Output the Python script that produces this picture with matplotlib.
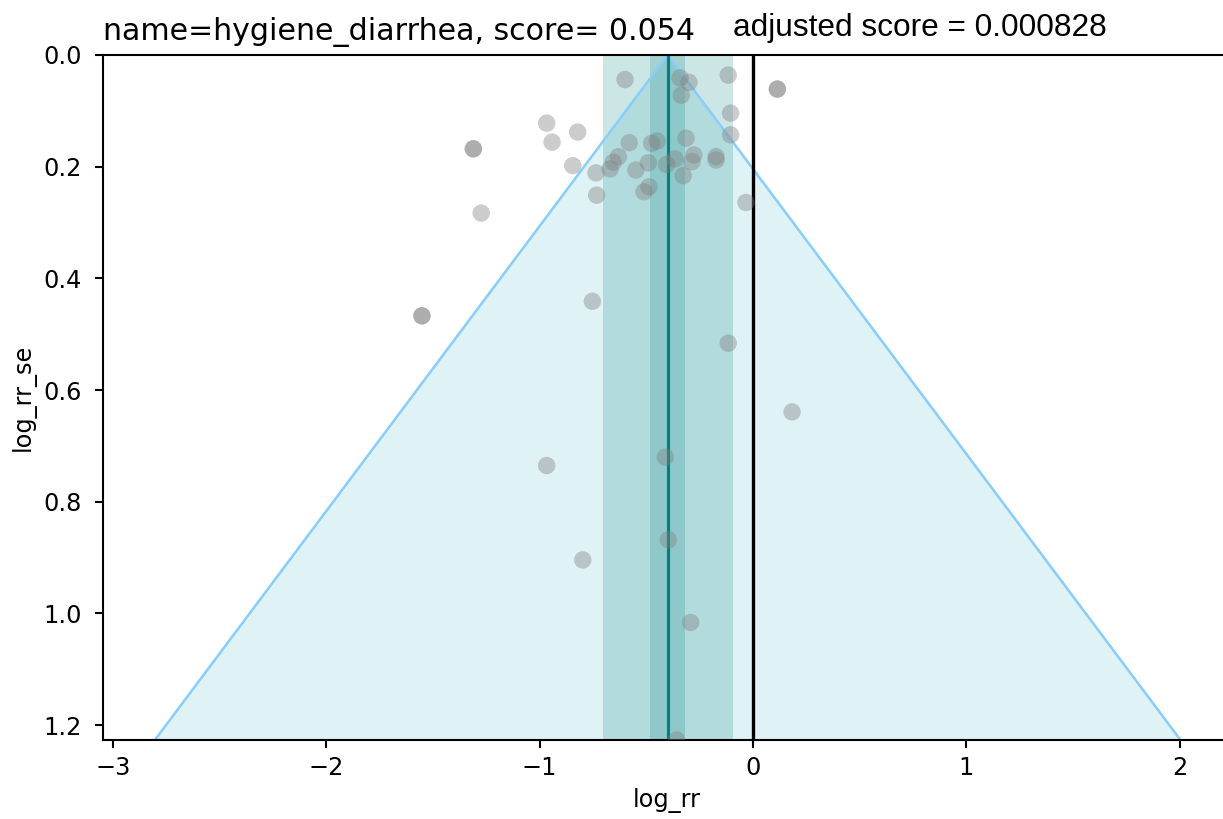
import matplotlib
matplotlib.use("Agg")
import matplotlib.pyplot as plt
import numpy as np

# Data
log_rr = [-0.600, -0.342, -0.300, -0.116, 0.114, 0.114, -0.336, -0.105, -0.105,
          -0.967, -0.822, -0.942, -0.845, -0.736, -0.733,
          -0.580, -0.475, -0.449, -0.314, -0.631, -0.655, -0.670, -0.549,
          -0.491, -0.405, -0.366, -0.277, -0.286, -0.173, -0.173, -0.327,
          -0.488, -0.511, -0.033,
          -1.311, -1.311, -1.274, -1.552, -1.552, -0.753,
          -0.116, 0.183, -0.967, -0.411, -0.397, -0.798, -0.292, -0.358]
log_rr_se = [0.044, 0.041, 0.049, 0.036, 0.061, 0.061, 0.072, 0.104, 0.143,
             0.122, 0.138, 0.156, 0.198, 0.211, 0.251,
             0.157, 0.158, 0.154, 0.149, 0.182, 0.192, 0.204, 0.206,
             0.193, 0.196, 0.186, 0.179, 0.191, 0.182, 0.188, 0.216,
             0.236, 0.245, 0.264,
             0.168, 0.168, 0.283, 0.467, 0.467, 0.441,
             0.516, 0.639, 0.735, 0.720, 0.868, 0.904, 1.016, 1.2265]

beta = -0.40
beta_inner = (-0.483, -0.319)
beta_outer = (-0.703, -0.094)
title_name = "hygiene_diarrhea"
score = 0.054
adjusted_score = 0.000828

W, H, DPI = 1223, 819, 150
fig = plt.figure(figsize=(W / DPI, H / DPI), dpi=DPI)
ax = fig.add_axes([103 / W, 1 - 740 / H, (1230 - 103) / W, (740 - 55) / H])

se_max = max(log_rr_se)
se_line = np.array([0.0, se_max])
ax.fill_betweenx(se_line, beta - 1.96 * se_line, beta + 1.96 * se_line,
                 color="#b0e0e6", alpha=0.4, linewidth=0)
ax.plot(beta - 1.96 * se_line, se_line, color="lightskyblue", linewidth=1.2)
ax.plot(beta + 1.96 * se_line, se_line, color="lightskyblue", linewidth=1.2)

ax.fill_betweenx(se_line, beta_outer[0], beta_outer[1], color="teal", alpha=0.2, linewidth=0)
ax.fill_betweenx(se_line, beta_inner[0], beta_inner[1], color="teal", alpha=0.2, linewidth=0)
ax.axvline(beta, color="teal", linewidth=1.5)
ax.axvline(0, color="black", linewidth=1.6)

ax.scatter(log_rr, log_rr_se, s=70, color="gray", alpha=0.4, edgecolors="none", zorder=3)

ax.set_xlim(-3.047, 2.236)
ax.set_ylim(se_max, 0)
ax.set_xticks([-3, -2, -1, 0, 1, 2])
ax.set_yticks([0.0, 0.2, 0.4, 0.6, 0.8, 1.0, 1.2])
ax.tick_params(axis="both", labelsize=11.5, length=4, width=1.0)
ax.tick_params(axis="y", pad=6)
for sp in ax.spines.values():
    sp.set_linewidth(1.0)
ax.set_xlabel("log_rr", fontsize=11.5)
ax.set_ylabel("log_rr_se", fontsize=11.5)
ax.set_title(f"name={title_name}, score= {score:.3f}", loc="left", fontsize=14.4, pad=7)

fig.text(733 / W, 1 - 36 / H, f"adjusted score = {adjusted_score}",
         family="Liberation Sans", fontsize=15.2, va="baseline", ha="left")

fig.savefig("out.png", dpi=DPI)
